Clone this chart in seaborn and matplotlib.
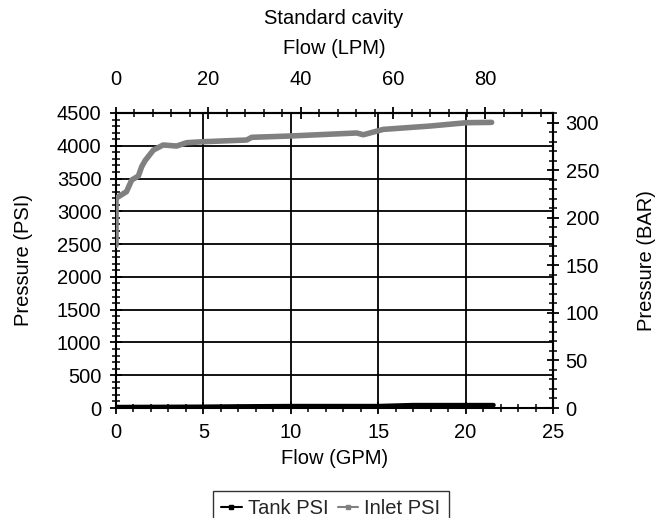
import matplotlib
matplotlib.use("Agg")
import matplotlib.pyplot as plt
import seaborn as sns
import pandas as pd
from matplotlib.lines import Line2D
from matplotlib.ticker import MultipleLocator, FixedLocator

sns.set_theme(style="white")
plt.rcParams['font.family'] = ['Liberation Sans', 'DejaVu Sans']

# Data
inlet_gpm = [0.0, 0.0, 0.6, 0.9, 1.28, 1.47, 1.66, 2.14, 2.7, 3.47, 4.04, 5.0, 7.48, 7.76,
             9.95, 12.43, 13.77, 14.15, 15.29, 17.96, 20.06, 21.49]
inlet_psi = [2480, 3200, 3300, 3478, 3539, 3681, 3772, 3935, 4012, 3996, 4047, 4062, 4088, 4129,
             4149, 4179, 4195, 4168, 4250, 4301, 4352, 4357]
tank_gpm = [0.0, 5.0, 7.0, 10.0, 15.0, 17.0, 21.6]
tank_psi = [15, 20, 25, 30, 30, 45, 45]

title = "Standard cavity"
x_label = "Flow (GPM)"
x2_label = "Flow (LPM)"
y_label = "Pressure (PSI)"
y2_label = "Pressure (BAR)"
series_names = ["Tank PSI", "Inlet PSI"]
lpm_ticks = [0, 20, 40, 60, 80]
bar_ticks = [0, 50, 100, 150, 200, 250, 300]
LPM_PER_GPM = 3.785
PSI_PER_BAR = 14.5038

FS = 14.5

tank_df = pd.DataFrame({"gpm": tank_gpm, "psi": tank_psi})
inlet_df = pd.DataFrame({"gpm": inlet_gpm, "psi": inlet_psi})

fig = plt.figure(figsize=(6.56, 5.18), dpi=100)
ax = fig.add_axes([116/656, 1-408/518, (553-116)/656, (408-113)/518])

sns.lineplot(data=tank_df, x="gpm", y="psi", ax=ax, color="black", lw=3.2,
             sort=False, estimator=None, zorder=4)
sns.lineplot(data=inlet_df, x="gpm", y="psi", ax=ax, color="#808080", lw=4.0,
             sort=False, estimator=None, zorder=3)

ax.set_xlim(0, 25)
ax.set_ylim(0, 4500)
ax.xaxis.set_major_locator(MultipleLocator(5))
ax.xaxis.set_minor_locator(MultipleLocator(1))
ax.yaxis.set_major_locator(MultipleLocator(500))
ax.yaxis.set_minor_locator(MultipleLocator(100))
ax.grid(True, which="major", color="black", lw=1.3)
ax.set_axisbelow(True)
for s in ax.spines.values():
    s.set_color("black")
    s.set_linewidth(1.5)
ax.tick_params(axis="x", which="major", direction="inout", length=8, width=1.3, color="black",
               labelsize=FS, pad=7, bottom=True, labelcolor="black")
ax.tick_params(axis="y", which="major", direction="inout", length=8, width=1.3, color="black",
               labelsize=FS, pad=6.5, left=True, labelcolor="black")
ax.tick_params(which="minor", direction="inout", length=6, width=1.1, color="black",
               bottom=True, left=True)
ax.set_xlabel(x_label, fontsize=FS, color="black", labelpad=5)
ax.set_ylabel(y_label, fontsize=FS, color="black", labelpad=17)

secx = ax.secondary_xaxis("top", functions=(lambda g: g*LPM_PER_GPM, lambda l: l/LPM_PER_GPM))
secx.xaxis.set_major_locator(FixedLocator(lpm_ticks))
secx.xaxis.set_minor_locator(MultipleLocator(4))
secx.tick_params(which="major", direction="inout", length=8, width=1.3, color="black",
                 labelsize=FS, pad=13, labelcolor="black")
secx.tick_params(which="minor", direction="inout", length=6, width=1.1, color="black")
secx.set_xlabel(x2_label, fontsize=FS, color="black", labelpad=12)
secx.spines["top"].set_linewidth(1.5)

secy = ax.secondary_yaxis("right", functions=(lambda p: p/PSI_PER_BAR, lambda b: b*PSI_PER_BAR))
secy.yaxis.set_major_locator(FixedLocator(bar_ticks))
secy.yaxis.set_minor_locator(MultipleLocator(10))
secy.tick_params(which="major", direction="inout", length=8, width=1.3, color="black",
                 labelsize=FS, pad=5, labelcolor="black")
secy.tick_params(which="minor", direction="inout", length=6, width=1.1, color="black")
secy.set_ylabel(y2_label, fontsize=FS, color="black", labelpad=27)
secy.spines["right"].set_linewidth(1.5)

fig.text(334/656, 1-18/518, title, ha="center", va="center", fontsize=FS, color="black")

handles = [Line2D([0], [0], color="black", lw=1.5, marker="s", markersize=3),
           Line2D([0], [0], color="#808080", lw=1.5, marker="s", markersize=3)]
leg = fig.legend(handles, series_names, loc="upper center", bbox_to_anchor=(331/656, 1-491/518),
                 ncol=2, fontsize=FS, frameon=True, fancybox=False, handlelength=1.0,
                 handletextpad=0.3, columnspacing=0.5, borderpad=0.4, borderaxespad=0)
leg.get_frame().set_edgecolor("black")
leg.get_frame().set_linewidth(1.0)

fig.savefig("out.png", dpi=100)
